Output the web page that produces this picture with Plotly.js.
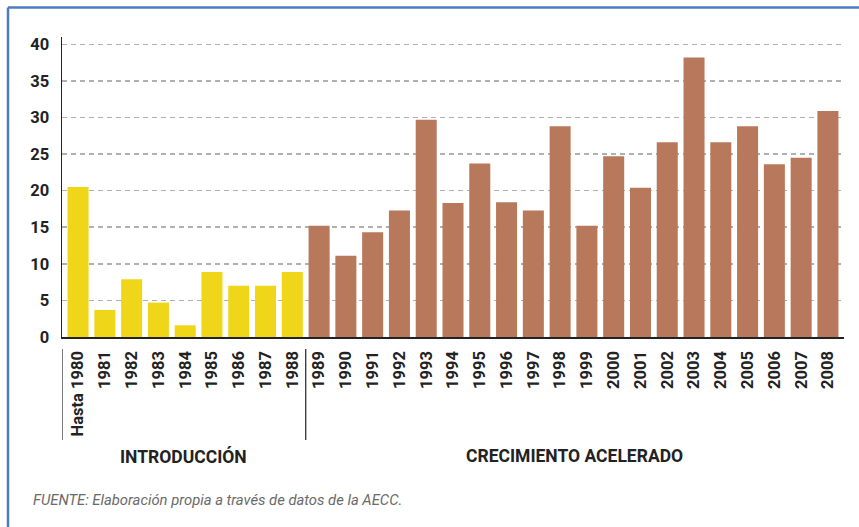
<!DOCTYPE html>
<html>
<head>
<meta charset="utf-8">
<script src="https://cdn.plot.ly/plotly-3.0.1.min.js"></script>
<style>
  html, body { margin: 0; padding: 0; background: #ffffff; }
  #chart { width: 859px; height: 527px; }
</style>
</head>
<body>
<div id="chart"></div>
<script>
// ---- Data ----
const categories = ["Hasta 1980", "1981", "1982", "1983", "1984", "1985", "1986", "1987", "1988",
  "1989", "1990", "1991", "1992", "1993", "1994", "1995", "1996", "1997", "1998",
  "1999", "2000", "2001", "2002", "2003", "2004", "2005", "2006", "2007", "2008"];
const values = [20.5, 3.7, 7.9, 4.7, 1.6, 8.9, 7.0, 7.0, 8.9,
  15.2, 11.1, 14.3, 17.3, 29.7, 18.3, 23.7, 18.4, 17.3, 28.8,
  15.2, 24.7, 20.4, 26.6, 38.2, 26.6, 28.8, 23.6, 24.5, 30.9];
const phases = ["INTRODUCCIÓN", "CRECIMIENTO ACELERADO"];
const phaseOfBar = values.map((v, i) => (i < 9 ? 0 : 1));
const yTicks = [0, 5, 10, 15, 20, 25, 30, 35, 40];
const sourceNote = "FUENTE: Elaboración propia a través de datos de la AECC.";

// ---- Styles ----
const phaseColors = ["#f0d619", "#b7785b"];
const tickFont = { family: "Roboto, 'Liberation Sans', sans-serif", size: 16.5, color: "#222222", weight: "bold" };

// plot-area geometry (pixels) used to convert to paper coordinates for decorations
const W = 859, H = 527;
const M = { l: 62, r: 15, t: 37, b: 190 };
const pw = W - M.l - M.r, ph = H - M.t - M.b;
const px = x => (x - M.l) / pw;
const py = y => (H - M.b - y) / ph;

const trace = {
  type: "bar",
  x: categories,
  y: values,
  marker: { color: phaseOfBar.map(p => phaseColors[p]), line: { width: 0 } },
  hoverinfo: "x+y"
};

// boundary between the two phases (between last intro bar and first growth bar)
const lastIntro = phaseOfBar.lastIndexOf(0);
const nCat = categories.length;

const shapes = [
  // bracket lines under the axis
  { type: "line", xref: "x", yref: "paper", x0: -0.6, x1: -0.6, y0: py(349), y1: py(440),
    line: { color: "#333333", width: 1.3 } },
  { type: "line", xref: "x", yref: "paper", x0: lastIntro + 0.5, x1: lastIntro + 0.5, y0: py(349), y1: py(440),
    line: { color: "#333333", width: 1.3 } },
  // blue frame (top and left)
  { type: "line", xref: "paper", yref: "paper", x0: px(8), x1: px(860), y0: py(7.5), y1: py(7.5),
    line: { color: "#4d7cc3", width: 2.5 } },
  { type: "line", xref: "paper", yref: "paper", x0: px(8), x1: px(8), y0: py(7.5), y1: py(528),
    line: { color: "#4d7cc3", width: 2.5 } }
];

const groupFont = { family: "Roboto, 'Liberation Sans', sans-serif", size: 17.5, color: "#222222", weight: "bold" };

const annotations = [
  { xref: "x", yref: "paper", x: (-0.6 + lastIntro + 0.5) / 2, y: py(456), text: phases[0],
    showarrow: false, xanchor: "center", yanchor: "middle", font: groupFont },
  { xref: "x", yref: "paper", x: (lastIntro + 0.5 + nCat - 0.4) / 2, y: py(456), text: phases[1],
    showarrow: false, xanchor: "center", yanchor: "middle", font: groupFont },
  { xref: "paper", yref: "paper", x: px(31), y: py(500), text: sourceNote,
    showarrow: false, xanchor: "left", yanchor: "middle",
    font: { family: "Roboto, 'Liberation Sans', sans-serif", size: 14.8, color: "#6a6a6a", style: "italic" } }
];

const layout = {
  width: W, height: H,
  margin: M,
  paper_bgcolor: "#ffffff",
  plot_bgcolor: "#ffffff",
  showlegend: false,
  bargap: 0.215,
  xaxis: {
    type: "category",
    range: [-0.6, nCat - 0.4],
    tickangle: -90,
    tickfont: tickFont,
    ticks: "",
    ticklabelstandoff: 6,
    showgrid: false,
    showline: true,
    linecolor: "#222222",
    linewidth: 1.5,
    zeroline: false,
    fixedrange: true
  },
  yaxis: {
    range: [0, 41],
    tickmode: "array",
    tickvals: yTicks,
    ticktext: yTicks.map(String),
    tickfont: tickFont,
    ticks: "",
    ticklabelstandoff: 8,
    showgrid: true,
    gridcolor: "#b0b0b0",
    gridwidth: 1.5,
    griddash: "5px,4px",
    showline: true,
    linecolor: "#222222",
    linewidth: 1.5,
    zeroline: false,
    fixedrange: true
  },
  shapes: shapes,
  annotations: annotations
};

Plotly.newPlot("chart", [trace], layout, { displayModeBar: false, staticPlot: true });
</script>
</body>
</html>
